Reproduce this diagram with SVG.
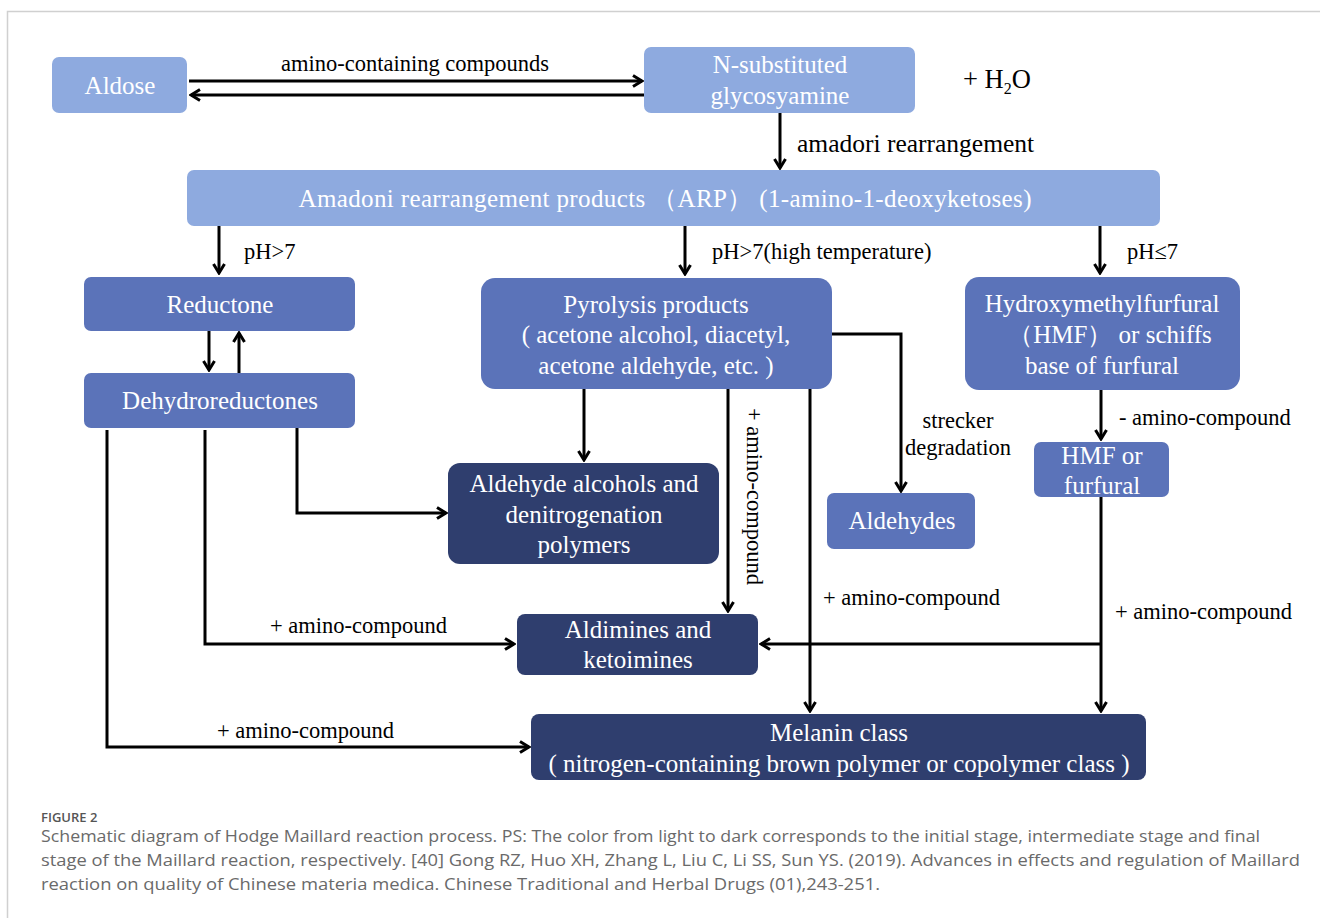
<svg xmlns="http://www.w3.org/2000/svg" width="1320" height="918" viewBox="0 0 1320 918">
<defs>
<style>
.l{fill:#8EAADF}.m{fill:#5B73B9}.d{fill:#2F3E6E}
.nt{font-family:"Liberation Serif","Times New Roman",serif;font-size:25px;fill:#fff;text-anchor:middle}
.lb{font-family:"Liberation Serif","Times New Roman",serif;font-size:22.5px;fill:#000}
.ln{fill:none;stroke:#000;stroke-width:3}
.cap{font-family:"Open Sans","Noto Sans",sans-serif;font-size:16px;fill:#6a6a6a}
</style>
<marker id="arr" viewBox="0 0 14 14" markerWidth="14" markerHeight="14" refX="12" refY="7" orient="auto" markerUnits="userSpaceOnUse">
<path d="M3,1.5 L12,7 L3,12.5" fill="none" stroke="#000" stroke-width="3"/>
</marker>
</defs>
<rect width="1320" height="918" fill="#fff"/>
<path d="M7.5,918 V11.5 H1320" fill="none" stroke="#d0d0d0" stroke-width="1.5"/>

<g id="connectors">
<path class="ln" d="M189,81 H642" marker-end="url(#arr)"/>
<path class="ln" d="M644,95 H191" marker-end="url(#arr)"/>
<path class="ln" d="M780,113 V168" marker-end="url(#arr)"/>
<path class="ln" d="M219,226 V273" marker-end="url(#arr)"/>
<path class="ln" d="M685,226 V274" marker-end="url(#arr)"/>
<path class="ln" d="M1100,226 V273" marker-end="url(#arr)"/>
<path class="ln" d="M209,331 V370" marker-end="url(#arr)"/>
<path class="ln" d="M239,373 V333" marker-end="url(#arr)"/>
<path class="ln" d="M584,389 V460" marker-end="url(#arr)"/>
<path class="ln" d="M832,334 H901 V491" marker-end="url(#arr)"/>
<path class="ln" d="M728,389 V611" marker-end="url(#arr)"/>
<path class="ln" d="M810,389 V711" marker-end="url(#arr)"/>
<path class="ln" d="M1101,390 V439" marker-end="url(#arr)"/>
<path class="ln" d="M1101,497 V711" marker-end="url(#arr)"/>
<path class="ln" d="M1101,644 H761" marker-end="url(#arr)"/>
<path class="ln" d="M297,428 V513 H446" marker-end="url(#arr)"/>
<path class="ln" d="M205,430 V644 H514" marker-end="url(#arr)"/>
<path class="ln" d="M107,430 V747 H529" marker-end="url(#arr)"/>
</g>

<g id="labels">
<text class="lb" x="415" y="71" text-anchor="middle">amino-containing compounds</text>
<text class="lb" x="963" y="88" style="font-size:26.5px">+ H<tspan style="font-size:16px" dy="6">2</tspan><tspan dy="-6">O</tspan></text>
<text class="lb" x="797" y="152" style="font-size:25.5px">amadori rearrangement</text>
<text class="lb" x="244" y="259">pH&gt;7</text>
<text class="lb" x="712" y="259">pH&gt;7(high temperature)</text>
<text class="lb" x="1127" y="259">pH≤7</text>
<text class="lb" x="958" y="428" text-anchor="middle">strecker</text>
<text class="lb" x="958" y="455" text-anchor="middle">degradation</text>
<text class="lb" x="1119" y="425">- amino-compound</text>
<text class="lb" transform="translate(747,408) rotate(90)">+ amino-compound</text>
<text class="lb" x="823" y="605">+ amino-compound</text>
<text class="lb" x="1115" y="619">+ amino-compound</text>
<text class="lb" x="270" y="633">+ amino-compound</text>
<text class="lb" x="217" y="738">+ amino-compound</text>
</g>

<g id="aldose"><rect class="l" x="52" y="57" width="135" height="56" rx="7"/><text class="nt" x="120" y="94">Aldose</text></g>
<g id="glycosyamine"><rect class="l" x="644" y="47" width="271" height="66" rx="7"/><text class="nt" x="780" y="73">N-substituted</text><text class="nt" x="780" y="104">glycosyamine</text></g>
<g id="arp"><rect class="l" x="187" y="170" width="973" height="56" rx="7"/><text class="nt" x="665" y="207" textLength="733" lengthAdjust="spacing">Amadoni rearrangement products （ARP） (1-amino-1-deoxyketoses)</text></g>
<g id="reductone"><rect class="m" x="84" y="277" width="271" height="54" rx="7"/><text class="nt" x="220" y="313">Reductone</text></g>
<g id="dehydroreductones"><rect class="m" x="84" y="373" width="271" height="55" rx="7"/><text class="nt" x="220" y="409">Dehydroreductones</text></g>
<g id="pyrolysis"><rect class="m" x="481" y="278" width="351" height="111" rx="14"/><text class="nt" x="656" y="313">Pyrolysis products</text><text class="nt" x="656" y="343">( acetone alcohol, diacetyl,</text><text class="nt" x="656" y="374">acetone aldehyde, etc. )</text></g>
<g id="hmf"><rect class="m" x="965" y="277" width="275" height="113" rx="14"/><text class="nt" x="1102" y="312">Hydroxymethylfurfural</text><text class="nt" x="1110" y="343">（HMF） or schiffs</text><text class="nt" x="1102" y="374">base of furfural</text></g>
<g id="aldehyde-alcohols"><rect class="d" x="448" y="463" width="271" height="101" rx="12"/><text class="nt" x="584" y="492">Aldehyde alcohols and</text><text class="nt" x="584" y="523">denitrogenation</text><text class="nt" x="584" y="553">polymers</text></g>
<g id="aldehydes"><rect class="m" x="827" y="493" width="148" height="56" rx="7"/><text class="nt" x="902" y="529">Aldehydes</text></g>
<g id="hmf-furfural"><rect class="m" x="1034" y="442" width="135" height="55" rx="7"/><text class="nt" x="1102" y="464">HMF or</text><text class="nt" x="1102" y="494">furfural</text></g>
<g id="aldimines"><rect class="d" x="517" y="614" width="241" height="61" rx="8"/><text class="nt" x="638" y="638">Aldimines and</text><text class="nt" x="638" y="668">ketoimines</text></g>
<g id="melanin"><rect class="d" x="531" y="714" width="615" height="66" rx="8"/><text class="nt" x="839" y="741">Melanin class</text><text class="nt" x="839" y="772">( nitrogen-containing brown polymer or copolymer class )</text></g>

<g id="caption">
<text x="41" y="822" font-family="'Open Sans','Noto Sans',sans-serif" font-size="13" font-weight="600" fill="#555">FIGURE 2</text>
<text class="cap" x="41" y="842" textLength="1219" lengthAdjust="spacingAndGlyphs">Schematic diagram of Hodge Maillard reaction process. PS: The color from light to dark corresponds to the initial stage, intermediate stage and final</text>
<text class="cap" x="41" y="866" textLength="1259" lengthAdjust="spacingAndGlyphs">stage of the Maillard reaction, respectively. [40] Gong RZ, Huo XH, Zhang L, Liu C, Li SS, Sun YS. (2019). Advances in effects and regulation of Maillard</text>
<text class="cap" x="41" y="890" textLength="839" lengthAdjust="spacingAndGlyphs">reaction on quality of Chinese materia medica. Chinese Traditional and Herbal Drugs (01),243-251.</text>
</g>
</svg>
